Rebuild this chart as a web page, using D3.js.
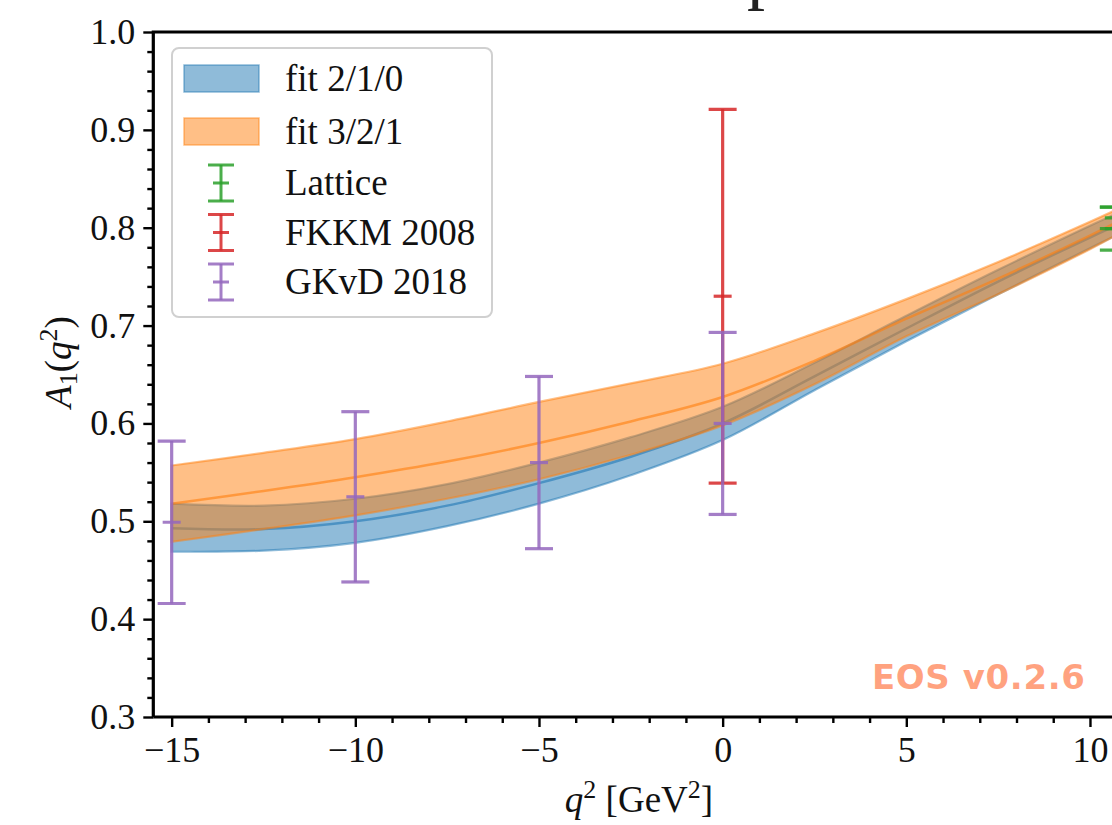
<!DOCTYPE html>
<html><head><meta charset="utf-8">
<script src="https://cdn.jsdelivr.net/npm/d3@7"></script>
<style>body{margin:0;background:#fff} svg{display:block}</style>
</head><body><svg id="c" width="1112" height="825"></svg>
<script>
// ---------------- data ----------------
const q2Grid        = [-15, -12.5, -10, -7.5, -5, -2.5, 0, 2.5, 5, 7.5, 10, 10.7];
const fit210Upper   = [0.518, 0.516, 0.523, 0.538, 0.560, 0.586, 0.617, 0.662, 0.710, 0.757, 0.802, 0.814];
const fit210Central = [0.493, 0.492, 0.500, 0.516, 0.539, 0.566, 0.600, 0.648, 0.697, 0.745, 0.790, 0.802];
const fit210Lower   = [0.469, 0.470, 0.478, 0.495, 0.518, 0.547, 0.583, 0.634, 0.684, 0.732, 0.779, 0.792];
const fit321Upper   = [0.557, 0.570, 0.584, 0.602, 0.622, 0.641, 0.661, 0.692, 0.727, 0.765, 0.806, 0.818];
const fit321Central = [0.518, 0.531, 0.545, 0.561, 0.580, 0.602, 0.627, 0.664, 0.707, 0.748, 0.792, 0.805];
const fit321Lower   = [0.479, 0.492, 0.506, 0.523, 0.543, 0.568, 0.598, 0.640, 0.689, 0.732, 0.778, 0.792];

const latticeQ2  = [10.65, 10.65];
const latticeVal = [0.810, 0.799];
const latticeErr = [0.011, 0.022];
const fkkmQ2  = [0];
const fkkmVal = [0.730];
const fkkmErr = [0.191];
const gkvdQ2  = [-15, -10, -5, 0];
const gkvdVal = [0.499, 0.525, 0.560, 0.600];
const gkvdErr = [0.083, 0.087, 0.088, 0.093];

const xTickValues = [-15, -10, -5, 0, 5, 10];
const yTickValues = [0.3, 0.4, 0.5, 0.6, 0.7, 0.8, 0.9, 1.0];
const bandLabels  = ["fit 2/1/0", "fit 3/2/1"];
const pointLabels = ["Lattice", "FKKM 2008", "GKvD 2018"];
const watermark   = "EOS v0.2.6";

// ---------------- layout ----------------
const svg = d3.select("#c");
const L = 153.3, R = 1126.7, T = 32, B = 717;
const x = d3.scaleLinear().domain([-15.5, 11]).range([L, R]);
const y = d3.scaleLinear().domain([0.3, 1.0]).range([B, T]);
const SERIF = "'Liberation Serif','DejaVu Serif',serif";
const C0 = "#1f77b4", C1 = "#ff7f0e", C2 = "#2ca02c", C3 = "#d62728", C4 = "#9467bd";

// partial title (cropped at the top edge in the reference)
svg.append("text").attr("x", 747).attr("y", -4).attr("font-family", SERIF)
  .attr("font-size", 72).attr("fill", "#222").text("p");

svg.append("clipPath").attr("id", "clip").append("rect")
  .attr("x", L).attr("y", T).attr("width", R - L).attr("height", B - T);
const plot = svg.append("g").attr("clip-path", "url(#clip)");

const curve = d3.curveCatmullRom.alpha(0.5);
function band(upper, central, lower, color) {
  const rows = q2Grid.map((q, i) => ({q, hi: upper[i], c: central[i], lo: lower[i]}));
  const area = d3.area().x(d => x(d.q)).y0(d => y(d.lo)).y1(d => y(d.hi)).curve(curve);
  const g = plot.append("g");
  g.append("path").datum(rows).attr("d", area).attr("fill", color).attr("fill-opacity", 0.5)
    .attr("stroke", color).attr("stroke-opacity", 0.5).attr("stroke-width", 2.2);
  g.append("path").datum(rows)
    .attr("d", d3.line().x(d => x(d.q)).y(d => y(d.c)).curve(curve))
    .attr("fill", "none").attr("stroke", color).attr("stroke-opacity", 0.6).attr("stroke-width", 2.5);
}
band(fit210Upper, fit210Central, fit210Lower, C0);
band(fit321Upper, fit321Central, fit321Lower, C1);

function errorbars(qs, vals, errs, color) {
  const g = plot.append("g").attr("stroke", color).attr("stroke-width", 3.2).attr("stroke-opacity", 0.85);
  qs.forEach((q, i) => {
    const cx = x(q), top = y(vals[i] + errs[i]), bot = y(vals[i] - errs[i]), mid = y(vals[i]);
    g.append("line").attr("x1", cx).attr("x2", cx).attr("y1", top).attr("y2", bot);
    g.append("line").attr("x1", cx - 14).attr("x2", cx + 14).attr("y1", top).attr("y2", top);
    g.append("line").attr("x1", cx - 14).attr("x2", cx + 14).attr("y1", bot).attr("y2", bot);
    g.append("line").attr("x1", cx - 9).attr("x2", cx + 9).attr("y1", mid).attr("y2", mid);
  });
}
errorbars(latticeQ2, latticeVal, latticeErr, C2);
errorbars(fkkmQ2, fkkmVal, fkkmErr, C3);
errorbars(gkvdQ2, gkvdVal, gkvdErr, C4);

// watermark
svg.append("text").attr("x", 872).attr("y", 689)
  .attr("font-family", "'DejaVu Sans',sans-serif").attr("font-weight", "bold")
  .attr("font-size", 34).attr("letter-spacing", 0.6)
  .attr("fill", "#ff4500").attr("fill-opacity", 0.5).text(watermark);

// ---------------- axes ----------------
const fmtY = d3.format(".1f");
const xAx = svg.append("g").attr("transform", `translate(0,${B})`)
  .call(d3.axisBottom(x).tickValues(xTickValues).tickSize(10).tickPadding(9).tickSizeOuter(0));
const xMin = svg.append("g").attr("transform", `translate(0,${B})`)
  .call(d3.axisBottom(x).tickValues(d3.range(-15, 11.01, 1).filter(v => v % 5 !== 0)).tickSize(6).tickFormat("").tickSizeOuter(0));
const yAx = svg.append("g").attr("transform", `translate(${L},0)`)
  .call(d3.axisLeft(y).tickValues(yTickValues).tickFormat(fmtY).tickSize(10).tickPadding(8).tickSizeOuter(0));
const yMin = svg.append("g").attr("transform", `translate(${L},0)`)
  .call(d3.axisLeft(y).tickValues(d3.range(0.32, 1.0, 0.02).filter(v => Math.abs(v * 10 - Math.round(v * 10)) > 0.01)).tickSize(6).tickFormat("").tickSizeOuter(0));
[xAx, xMin, yAx, yMin].forEach(g => {
  g.select(".domain").remove();
  g.selectAll("line").attr("stroke", "#000").attr("stroke-width", 2.4);
  g.selectAll("text").attr("font-family", SERIF).attr("font-size", 36).attr("fill", "#111");
});

// spines
svg.append("path").attr("d", `M${L},${B} L${L},${T} L${R},${T}`).attr("fill", "none")
  .attr("stroke", "#000").attr("stroke-width", 3.2);
svg.append("line").attr("x1", L).attr("x2", R).attr("y1", B).attr("y2", B)
  .attr("stroke", "#000").attr("stroke-width", 3.2);

// axis labels
const yl = svg.append("text").attr("transform", "translate(71,362) rotate(-90)")
  .attr("text-anchor", "middle").attr("font-family", SERIF).attr("font-size", 37).attr("fill", "#111");
yl.append("tspan").attr("font-style", "italic").text("A");
yl.append("tspan").attr("font-size", 26).attr("dy", 6).text("1");
yl.append("tspan").attr("dy", -6).text("(");
yl.append("tspan").attr("font-style", "italic").text("q");
yl.append("tspan").attr("font-size", 26).attr("dy", -14).text("2");
yl.append("tspan").attr("dy", 14).text(")");

const xl = svg.append("text").attr("x", 639).attr("y", 812)
  .attr("text-anchor", "middle").attr("font-family", SERIF).attr("font-size", 37).attr("fill", "#111");
xl.append("tspan").attr("font-style", "italic").text("q");
xl.append("tspan").attr("font-size", 26).attr("dy", -14).text("2");
xl.append("tspan").attr("dy", 14).text(" [GeV");
xl.append("tspan").attr("font-size", 26).attr("dy", -14).text("2");
xl.append("tspan").attr("dy", 14).text("]");

// ---------------- legend ----------------
const lg = svg.append("g");
lg.append("rect").attr("x", 172).attr("y", 48).attr("width", 320).attr("height", 269).attr("rx", 7)
  .attr("fill", "#fff").attr("fill-opacity", 0.85).attr("stroke", "#d0d0d0").attr("stroke-width", 2);
const bandColors = [C0, C1];
bandLabels.forEach((lab, i) => {
  const yy = 65 + i * 53;
  lg.append("rect").attr("x", 184).attr("y", yy).attr("width", 75).attr("height", 27)
    .attr("fill", bandColors[i]).attr("fill-opacity", 0.5).attr("stroke", bandColors[i]).attr("stroke-opacity", 0.5).attr("stroke-width", 1.5);
  lg.append("text").attr("x", 285).attr("y", yy + 26).attr("font-family", SERIF).attr("font-size", 37).attr("fill", "#111").text(lab);
});
const pointColors = [C2, C3, C4];
pointLabels.forEach((lab, i) => {
  const cy = 183 + i * 49.5;
  const g = lg.append("g").attr("stroke", pointColors[i]).attr("stroke-width", 3).attr("stroke-opacity", 0.85);
  g.append("line").attr("x1", 221).attr("x2", 221).attr("y1", cy - 18).attr("y2", cy + 18);
  g.append("line").attr("x1", 208).attr("x2", 234).attr("y1", cy - 18).attr("y2", cy - 18);
  g.append("line").attr("x1", 208).attr("x2", 234).attr("y1", cy + 18).attr("y2", cy + 18);
  g.append("line").attr("x1", 213).attr("x2", 229).attr("y1", cy).attr("y2", cy);
  lg.append("text").attr("x", 285).attr("y", cy + 12).attr("font-family", SERIF).attr("font-size", 37).attr("fill", "#111").text(lab);
});
</script></body></html>
